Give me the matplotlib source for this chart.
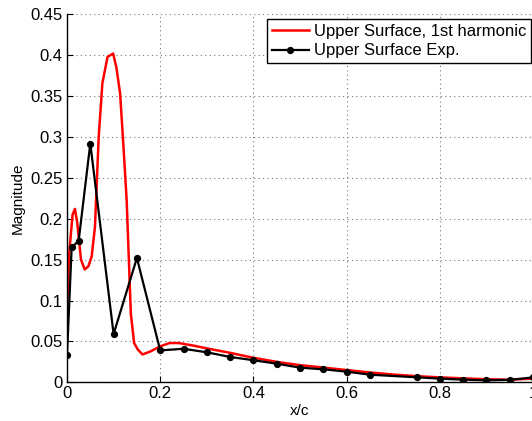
import matplotlib
matplotlib.use("Agg")
import matplotlib.pyplot as plt

plt.rcParams['font.family'] = ['Liberation Sans', 'DejaVu Sans']

# CFD first harmonic (upper surface)
cfd_x = [0.0, 0.005, 0.012, 0.017, 0.022, 0.030, 0.038, 0.046, 0.053, 0.060, 0.068,
         0.076, 0.087, 0.099, 0.106, 0.114, 0.121, 0.128, 0.137, 0.144, 0.152, 0.162,
         0.18, 0.20, 0.22, 0.24, 0.27, 0.30, 0.35, 0.40, 0.45, 0.50, 0.55, 0.60,
         0.65, 0.70, 0.75, 0.80, 0.85, 0.90, 0.95, 1.0]
cfd_y = [0.09, 0.16, 0.205, 0.212, 0.195, 0.150, 0.138, 0.142, 0.154, 0.19, 0.30,
         0.366, 0.398, 0.402, 0.385, 0.353, 0.29, 0.223, 0.084, 0.048, 0.040, 0.034,
         0.038, 0.044, 0.048, 0.048, 0.045, 0.0415, 0.036, 0.030, 0.025, 0.021, 0.018, 0.015,
         0.012, 0.0095, 0.0075, 0.006, 0.0048, 0.0038, 0.0032, 0.0045]

# Experimental data (upper surface)
exp_x = [0.0, 0.01, 0.025, 0.05, 0.10, 0.15, 0.20, 0.25, 0.30, 0.35, 0.40, 0.45,
         0.50, 0.55, 0.60, 0.65, 0.75, 0.80, 0.85, 0.90, 0.95, 1.0]
exp_y = [0.033, 0.165, 0.173, 0.292, 0.059, 0.152, 0.039, 0.041, 0.0367, 0.031, 0.027, 0.0228,
         0.0179, 0.0159, 0.013, 0.0093, 0.0061, 0.0045, 0.0032, 0.0024, 0.003, 0.006]

xticks = [0, 0.2, 0.4, 0.6, 0.8, 1]
xticklabels = ['0', '0.2', '0.4', '0.6', '0.8', '1']
yticks = [0, 0.05, 0.1, 0.15, 0.2, 0.25, 0.3, 0.35, 0.4, 0.45]
yticklabels = ['0', '0.05', '0.1', '0.15', '0.2', '0.25', '0.3', '0.35', '0.4', '0.45']

W, H = 532, 421
fig = plt.figure(figsize=(W / 100, H / 100), dpi=100)
ax_l, ax_r, ax_t, ax_b = 67, 533, 14.3, 382.3
ax = fig.add_axes([ax_l / W, (H - ax_b) / H, (ax_r - ax_l) / W, (ax_b - ax_t) / H])

ax.plot(cfd_x, cfd_y, color='red', lw=1.8, label='Upper Surface, 1st harmonic')
ax.plot(exp_x, exp_y, color='black', lw=1.6, marker='o', ms=4.2,
        label='Upper Surface Exp.')

ax.set_xlim(0, 1)
ax.set_ylim(0, 0.45)
ax.set_xticks(xticks)
ax.set_xticklabels(xticklabels)
ax.set_yticks(yticks)
ax.set_yticklabels(yticklabels)
ax.tick_params(direction='in', labelsize=12, length=4, width=0.8,
               top=False, right=False)
ax.tick_params(axis='y', pad=3)
ax.tick_params(axis='x', pad=3)
ax.grid(True, linestyle=(0, (1, 3)), color='#777777', lw=0.8)
ax.spines['top'].set_visible(False)
ax.spines['right'].set_visible(False)
for s in ('left', 'bottom'):
    ax.spines[s].set_linewidth(1.0)

ax.set_xlabel('x/c', fontsize=11, labelpad=2)
ax.set_ylabel('Magnitude', fontsize=11, labelpad=4)

leg = ax.legend(loc='upper right', bbox_to_anchor=(1 - 2 / 466, 1 - 5 / 368),
                borderaxespad=0, fontsize=12, fancybox=False, framealpha=1,
                edgecolor='black', handlelength=2.2, handletextpad=0.3,
                labelspacing=0.25, borderpad=0.3)
leg.get_frame().set_linewidth(1.0)

fig.savefig('out.png', dpi=100)
